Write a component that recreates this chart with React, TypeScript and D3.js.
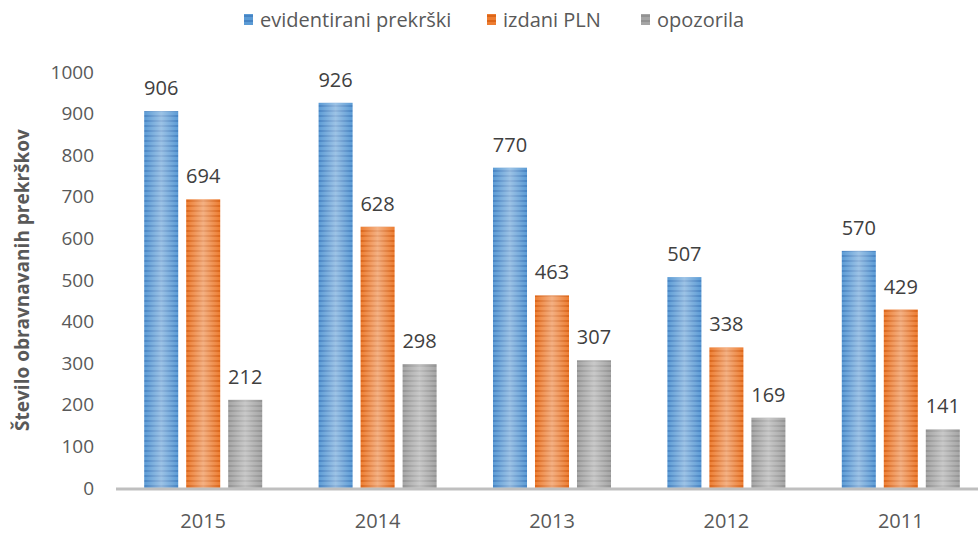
import * as d3 from "d3";
import React, { useEffect, useRef } from "react";

const years = ["2015", "2014", "2013", "2012", "2011"];
const seriesNames = ["evidentirani prekrški", "izdani PLN", "opozorila"];
const evidentirani = [906, 926, 770, 507, 570];
const izdaniPLN = [694, 628, 463, 338, 429];
const opozorila = [212, 298, 307, 169, 141];
const yTicks = [0, 100, 200, 300, 400, 500, 600, 700, 800, 900, 1000];

const COLORS = ["#5b9bd5", "#ed7d31", "#a5a5a5"];
const DARK = ["#4684c4", "#dc6518", "#929292"];
const FONT = "'Open Sans', sans-serif";

const App: React.FC = () => {
  const svgRef = useRef<SVGSVGElement>(null);

  useEffect(() => {
    if (!svgRef.current) return;
    const svg = d3.select(svgRef.current);
    svg.selectAll("*").remove();

    const width = 978;
    const values = [evidentirani, izdaniPLN, opozorila];

    const x = d3.scaleBand().domain(years).range([116, 988]);
    const inner = d3
      .scaleBand()
      .domain(seriesNames)
      .range([0, 126])
      .paddingInner(0.19)
      .paddingOuter(0.095);
    const y = d3.scaleLinear().domain([0, 1000]).range([488, 72]);

    const defs = svg.append("defs");
    COLORS.forEach((c, i) => {
      const p = defs
        .append("pattern")
        .attr("id", `stripe${i}`)
        .attr("patternUnits", "userSpaceOnUse")
        .attr("width", 4)
        .attr("height", 5);
      p.append("rect").attr("width", 4).attr("height", 5).attr("fill", c);
      p.append("rect").attr("width", 4).attr("height", 2).attr("fill", DARK[i]);
    });
    const grad = defs
      .append("linearGradient")
      .attr("id", "shine")
      .attr("x1", "0")
      .attr("x2", "1")
      .attr("y1", "0")
      .attr("y2", "0");
    grad.append("stop").attr("offset", "0").attr("stop-color", "#fff").attr("stop-opacity", 0);
    grad.append("stop").attr("offset", "0.5").attr("stop-color", "#fff").attr("stop-opacity", 0.4);
    grad.append("stop").attr("offset", "1").attr("stop-color", "#fff").attr("stop-opacity", 0);

    // bars + value labels
    seriesNames.forEach((s, si) => {
      const data = years.map((yr, i) => ({ yr, v: values[si][i] }));
      const bx = (d: { yr: string }) => x(d.yr)! + x.bandwidth() / 2 - 63 + inner(s)!;
      ["stripe" + si, "shine"].forEach((fill) => {
        svg
          .append("g")
          .selectAll("rect")
          .data(data)
          .join("rect")
          .attr("x", bx)
          .attr("y", (d) => y(d.v))
          .attr("width", inner.bandwidth())
          .attr("height", (d) => y(0) - y(d.v))
          .attr("fill", `url(#${fill})`);
      });
      svg
        .append("g")
        .selectAll("text")
        .data(data)
        .join("text")
        .attr("x", (d) => bx(d) + inner.bandwidth() / 2)
        .attr("y", (d) => y(d.v) - 16)
        .attr("text-anchor", "middle")
        .attr("fill", "#404040")
        .style("font-family", FONT)
        .style("font-size", "20px")
        .text((d) => d.v);
    });

    // x axis line
    svg
      .append("line")
      .attr("x1", 116)
      .attr("x2", width)
      .attr("y1", y(0) + 1)
      .attr("y2", y(0) + 1)
      .attr("stroke", "#bfbfbf")
      .attr("stroke-width", 3);

    // y tick labels
    svg
      .append("g")
      .selectAll("text")
      .data(yTicks)
      .join("text")
      .attr("x", 94)
      .attr("y", (d) => y(d))
      .attr("dy", "0.35em")
      .attr("text-anchor", "end")
      .attr("fill", "#595959")
      .style("font-family", FONT)
      .style("font-size", "19px")
      .text((d) => d);

    // x labels
    svg
      .append("g")
      .selectAll("text")
      .data(years)
      .join("text")
      .attr("x", (d) => x(d)! + x.bandwidth() / 2)
      .attr("y", 521)
      .attr("dy", "0.35em")
      .attr("text-anchor", "middle")
      .attr("fill", "#595959")
      .style("font-family", FONT)
      .style("font-size", "20px")
      .text((d) => d);

    // y title
    svg
      .append("text")
      .attr("transform", `translate(29,${(y(0) + y(1000)) / 2}) rotate(-90)`)
      .attr("text-anchor", "middle")
      .attr("fill", "#595959")
      .style("font-family", FONT)
      .style("font-size", "19px")
      .style("font-weight", "bold")
      .text("Število obravnavanih prekrškov");

    // legend
    const legendX = [244, 487, 641];
    seriesNames.forEach((s, i) => {
      svg
        .append("rect")
        .attr("x", legendX[i])
        .attr("y", 14)
        .attr("width", 9)
        .attr("height", 11)
        .attr("fill", `url(#stripe${i})`);
      svg
        .append("text")
        .attr("x", legendX[i] + 16)
        .attr("y", 20)
        .attr("dy", "0.35em")
        .attr("fill", "#595959")
        .style("font-family", FONT)
        .style("font-size", "20px")
        .text(s);
    });
  }, []);

  return (
    <svg
      ref={svgRef}
      width={978}
      height={534}
      style={{ position: "absolute", left: 0, top: 0, background: "#fff" }}
    />
  );
};

export default App;
